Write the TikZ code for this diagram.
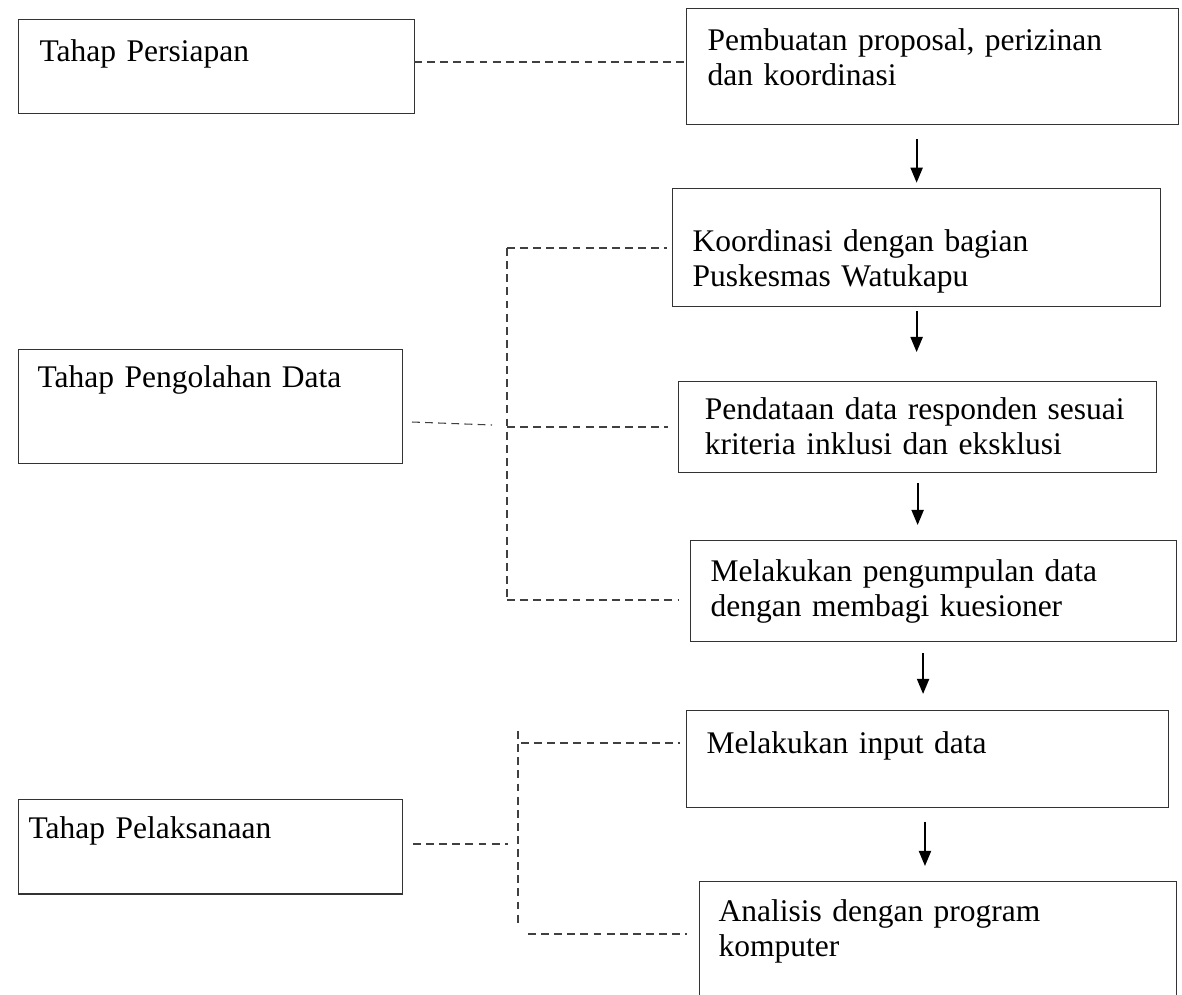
\documentclass[tikz,border=0pt]{standalone}
\usepackage{fontspec}
\setmainfont{Liberation Serif}
\usetikzlibrary{
	arrows.meta,
	positioning,
	calc
}

\begin{document}
\begin{tikzpicture}[
		x=0.381pt, y=-0.381pt,
		stage/.style={draw=black!80, line width=0.5pt, anchor=north west, align=left, inner ysep=0pt, font=\fontsize{12}{13.4}\selectfont},
		link/.style={draw=black!75, line width=0.4pt, dash pattern=on 3pt off 2pt},
		flow/.style={-{Triangle[width=4.6pt,length=5.8pt]}, line width=0.8pt}
		]
		\useasboundingbox (0,0) rectangle (1182,994);
		
		% --- Left column ---
		\node[stage, inner xsep=8pt, text width=134.9pt, text height=16pt, text depth=19.8pt] (persiapan) at (18,19)
		{Tahap Persiapan};
		
		\node[stage, inner xsep=7.2pt, text width=131.8pt, text height=14.5pt, text depth=29pt] (pengolahan) at (18,349)
		{Tahap Pengolahan Data};
		
		\node[stage, inner xsep=3.8pt, text width=138.7pt, text height=14.9pt, text depth=21pt] (pelaksanaan) at (18,799)
		{Tahap Pelaksanaan};
		
		% --- Right column ---
		\node[stage, inner xsep=8pt, text width=171.5pt, text height=16pt, text depth=28.2pt] (proposal) at (686,8)
		{Pembuatan proposal, perizinan \\ dan koordinasi};
		
		\node[stage, inner xsep=7.6pt, text width=170.7pt, text height=24pt, text depth=21pt] (koordinasi) at (672,188)
		{Koordinasi dengan bagian \\ Puskesmas Watukapu};
		
		\node[stage, inner xsep=10pt, text width=162.1pt, text height=14.5pt, text depth=20.2pt] (pendataan) at (678,381)
		{\mbox{Pendataan data responden sesuai} \\ kriteria inklusi dan eksklusi};
		
		\node[stage, inner xsep=7.6pt, text width=169.9pt, text height=15.6pt, text depth=22.9pt] (pengumpulan) at (690,540)
		{Melakukan pengumpulan data \\ dengan membagi kuesioner};
		
		\node[stage, inner xsep=7.6pt, text width=168.4pt, text height=16.4pt, text depth=20.6pt] (input) at (686,710)
		{Melakukan input data};
		
		\node[stage, inner xsep=7.2pt, text width=167.3pt, text height=15.2pt, text depth=33.9pt] (analisis) at (699,881)
		{Analisis dengan program \\ komputer};
		
		% --- Arrows ---
		\draw[flow, shorten <=5.3pt, shorten >=2pt] (proposal.south -| koordinasi.north) -- (koordinasi.north);
		\draw[flow, shorten <=1.5pt, shorten >=11pt] (koordinasi.south) -- (koordinasi.south |- pendataan.north);
		\draw[flow, shorten <=3.8pt, shorten >=5.7pt] (pendataan.south) -- (pendataan.south |- pengumpulan.north);
		\draw[flow, shorten <=4.2pt, shorten >=6.1pt] ([xshift=-4pt]pengumpulan.south) -- ([xshift=-4pt]pengumpulan.south |- input.north);
		\draw[flow, shorten <=5pt, shorten >=5.7pt] ([xshift=-1pt]input.south) -- ([xshift=-1pt]input.south |- analisis.north);
		
		% --- Dashed links ---
		\coordinate (sa) at (414,62);
		\draw[link] (sa) -- (sa -| proposal.west);
		
		\coordinate (pa) at (412,422);
		\coordinate (pb) at (492,425);
		\coordinate (ta) at (507,248);
		\coordinate (tb) at (507,427);
		\coordinate (tc) at (507,600);
		\draw[link] (pa) -- (pb);
		\draw[link] (ta) -- (tc);
		\draw[link, shorten >=2pt] (ta) -- (ta -| koordinasi.west);
		\draw[link, shorten >=4pt] (tb) -- (tb -| pendataan.west);
		\draw[link, shorten >=4.6pt] (tc) -- (tc -| pengumpulan.west);
		
		\coordinate (qa) at (413,844);
		\coordinate (qb) at (508,844);
		\coordinate (ua) at (518,731);
		\coordinate (ub) at (518,923);
		\coordinate (va) at (521,743);
		\coordinate (vb) at (528,934);
		\draw[link] (qa) -- (qb);
		\draw[link] (ua) -- (ub);
		\draw[link, shorten >=2.3pt] (va) -- (va -| input.west);
		\draw[link, shorten >=4.6pt] (vb) -- (vb -| analisis.west);
		
	\end{tikzpicture}
\end{document}
